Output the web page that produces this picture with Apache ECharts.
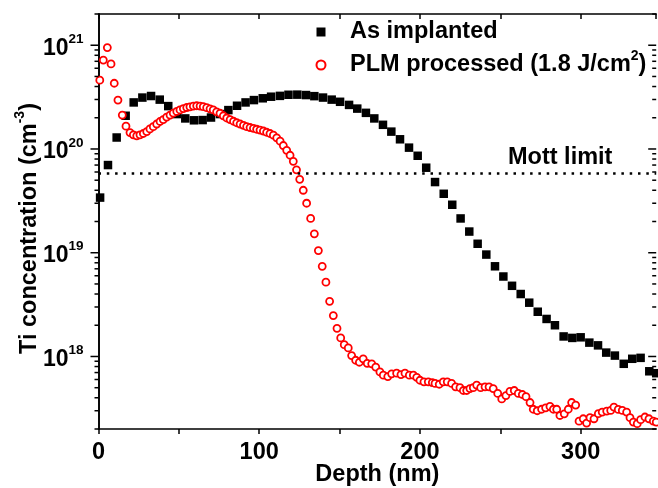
<!DOCTYPE html>
<html>
<head>
<meta charset="utf-8">
<title>Ti concentration profile</title>
<script src="https://cdn.jsdelivr.net/npm/echarts@6/dist/echarts.min.js"></script>
<style>
html, body { margin: 0; padding: 0; background: #fff; }
#chart { width: 658px; height: 488px; }
</style>
</head>
<body>
<div id="chart"></div>
<script>
// depth in nm, concentration in cm^-3
const implantedDepth = [1, 5.9, 11.3, 16.9, 21.9, 27.3, 32.7, 38.1, 43.4, 48.7, 54.0, 59.4, 64.8, 70.0, 75.6, 80.8, 86.2, 91.5, 96.7, 102.2,
  107.4, 112.9, 118.2, 123.7, 129.1, 134.3, 139.7, 145.1, 150.3, 155.9, 161.0, 166.4, 171.6, 177.0, 182.2, 187.6, 193.2, 198.6, 203.9, 209.4,
  214.8, 220.1, 225.3, 230.7, 235.9, 241.3, 246.7, 251.9, 257.3, 262.7, 268.0, 273.3, 278.8, 284.0, 289.4, 294.8, 300.0, 305.4, 310.8, 315.9,
  321.3, 326.8, 332.1, 337.3, 342.7, 347]
const implantedConc = [3.4e19, 7.0e19, 1.29e20, 2.09e20, 2.81e20, 3.13e20, 3.24e20, 2.99e20, 2.59e20, 2.17e20, 1.97e20, 1.89e20, 1.90e20, 2.01e20, 2.17e20, 2.37e20, 2.61e20, 2.81e20, 2.96e20, 3.08e20,
  3.19e20, 3.25e20, 3.33e20, 3.34e20, 3.31e20, 3.23e20, 3.13e20, 2.99e20, 2.85e20, 2.66e20, 2.45e20, 2.23e20, 1.97e20, 1.71e20, 1.47e20, 1.24e20, 1.03e20, 8.6e19, 6.6e19, 4.8e19,
  3.7e19, 2.9e19, 2.14e19, 1.60e19, 1.22e19, 9.6e18, 7.4e18, 5.9e18, 4.8e18, 4.0e18, 3.3e18, 2.7e18, 2.3e18, 2.0e18, 1.56e18, 1.51e18, 1.53e18, 1.36e18, 1.28e18, 1.09e18,
  1.02e18, 8.5e17, 9.5e17, 9.7e17, 7.2e17, 6.9e17]

const plmDepth = [0.8, 3.0, 5.5, 7.8, 9.8, 12.1, 14.8, 17.1, 19.6, 21.7, 23.8, 25.8, 27.9, 30.0, 32.0, 34.1, 36.2, 38.3, 40.3, 42.4,
  44.5, 46.5, 48.7, 50.7, 52.8, 54.9, 56.9, 59.0, 61.1, 63.2, 65.2, 67.3, 69.4, 71.4, 73.5, 75.6, 77.7, 79.8, 81.9, 84.0,
  86.0, 88.1, 90.2, 92.2, 94.3, 96.4, 98.4, 100.5, 102.6, 104.6, 106.7, 108.8, 110.9, 113.0, 115.0, 117.1, 119.2, 121.2, 123.2, 125.2,
  127.4, 129.5, 132.0, 134.3, 136.8, 139.2, 141.5, 143.8, 146.1, 148.4, 150.7, 152.9, 155.4, 157.5, 160.0, 162.3, 164.7, 167.2, 170.0, 172.5,
  175.1, 177.2, 180.0, 182.4, 185.5, 188.2, 190.7, 193.4, 195.9, 198.0, 200.0, 202.5, 205.2, 207.7, 209.4, 212.0, 214.5, 217.0, 219.7, 222.2,
  224.9, 227.0, 229.1, 231.1, 233.2, 235.3, 237.8, 240.5, 243.0, 245.6, 248.4, 250.9, 253.5, 256.0, 258.7, 261.2, 263.7, 266.0, 268.5, 270.5,
  273.0, 275.7, 278.2, 280.9, 283.0, 285.1, 287.1, 289.8, 292.3, 294.4, 296.9, 299.0, 301.6, 303.7, 305.8, 308.3, 311.0, 313.4, 316.2, 318.7,
  320.7, 323.4, 325.9, 328.6, 330.7, 332.8, 335.2, 337.3, 340.0, 342.5, 345.2, 347.0]
const plmConc = [4.6e20, 7.2e20, 9.5e20, 6.6e20, 4.3e20, 2.96e20, 2.12e20, 1.66e20, 1.44e20, 1.37e20, 1.34e20, 1.37e20, 1.41e20, 1.47e20, 1.56e20, 1.64e20, 1.74e20, 1.84e20, 1.92e20, 2.03e20,
  2.12e20, 2.22e20, 2.30e20, 2.38e20, 2.45e20, 2.51e20, 2.55e20, 2.59e20, 2.61e20, 2.59e20, 2.56e20, 2.50e20, 2.44e20, 2.38e20, 2.28e20, 2.21e20, 2.09e20, 1.99e20, 1.92e20, 1.85e20,
  1.79e20, 1.74e20, 1.69e20, 1.64e20, 1.61e20, 1.58e20, 1.55e20, 1.52e20, 1.49e20, 1.45e20, 1.41e20, 1.36e20, 1.28e20, 1.19e20, 1.08e20, 9.7e19, 8.7e19, 7.6e19, 6.3e19, 5.1e19,
  4.0e19, 3.0e19, 2.14e19, 1.52e19, 1.05e19, 7.4e18, 5.2e18, 3.4e18, 2.48e18, 1.87e18, 1.51e18, 1.30e18, 1.21e18, 1.02e18, 9.2e17, 8.8e17, 9.5e17, 8.6e17, 8.5e17, 7.9e17,
  7.1e17, 6.6e17, 6.4e17, 6.8e17, 6.9e17, 6.7e17, 6.9e17, 6.6e17, 6.6e17, 6.3e17, 5.9e17, 5.7e17, 5.7e17, 5.6e17, 5.5e17, 5.4e17, 5.7e17, 5.7e17, 5.5e17, 5.1e17,
  5.0e17, 4.7e17, 4.7e17, 4.9e17, 5.0e17, 5.3e17, 5.0e17, 5.1e17, 5.1e17, 4.9e17, 4.4e17, 3.9e17, 4.2e17, 4.6e17, 4.7e17, 4.4e17, 4.3e17, 4.1e17, 3.6e17, 3.1e17,
  3.0e17, 3.1e17, 3.2e17, 3.3e17, 3.1e17, 3.1e17, 2.7e17, 2.8e17, 3.1e17, 3.6e17, 3.4e17, 2.38e17, 2.51e17, 2.28e17, 2.57e17, 2.51e17, 2.81e17, 2.91e17, 2.98e17, 3.02e17,
  3.25e17, 3.09e17, 3.02e17, 2.91e17, 2.57e17, 2.33e17, 2.25e17, 2.46e17, 2.61e17, 2.51e17, 2.38e17, 2.33e17]

const mottLimit = 5.8e19
const xMin = 0
const xMax = 347
const yMin = 2e17
const yMax = 2e21

const FONT = '"Liberation Sans", Arial, sans-serif'

// log ticks 1..9 x 10^n, drawn by hand (left outward, right inward)
const yTickData = []
for (let e = 17; e <= 21; e++) {
  for (let m = 1; m <= 9; m++) {
    const v = m * Math.pow(10, e)
    if (v >= yMin && v <= yMax) yTickData.push([xMin, v, m === 1 ? 1 : 0])
  }
}

function zip(xs, ys) {
  return xs.map((x, i) => [x, ys[i]])
}

// superscript rich styles: the bottom padding lifts the small token
function richText(size, supSize, lh, lift) {
  return {
    a: { fontFamily: FONT, fontWeight: 'bold', fontSize: size, color: '#000', lineHeight: lh },
    s: { fontFamily: FONT, fontWeight: 'bold', fontSize: supSize, color: '#000', lineHeight: supSize, padding: [0, 0, lift, 0] }
  }
}

const chart = echarts.init(document.getElementById('chart'), null, { renderer: 'canvas' })

const option = {
  backgroundColor: '#fff',
  animation: false,
  textStyle: { fontFamily: FONT },
  grid: { left: 98.5, right: 1.8, top: 14, bottom: 59, outerBoundsMode: 'none', containLabel: false },
  legend: {
    orient: 'vertical',
    left: 310.5,
    top: 15,
    itemWidth: 9,
    itemHeight: 9,
    itemGap: 5,
    selectedMode: false,
    data: [
      { name: 'As implanted', icon: 'rect' },
      { name: 'PLM processed', icon: 'circle' }
    ],
    formatter: name => name === 'PLM processed'
      ? '{a|PLM processed (1.8 J/cm}{s|2}{a|)}'
      : '{a|' + name + '}',
    textStyle: {
      padding: [0, 0, 0, 19.5],
      rich: richText(23.5, 14, 24, 18)
    }
  },
  graphic: [
    {
      type: 'text',
      left: 508,
      top: 146,
      style: { text: 'Mott limit', font: 'bold 23.5px ' + FONT, fill: '#000' }
    }
  ],
  xAxis: [
    {
      type: 'value',
      min: xMin,
      max: xMax,
      interval: 50,
      name: 'Depth (nm)',
      nameLocation: 'middle',
      nameGap: 34,
      nameMoveOverlap: false,
      nameTextStyle: { fontFamily: FONT, fontWeight: 'bold', fontSize: 23.5, color: '#000' },
      axisLine: { show: true, lineStyle: { color: '#000', width: 1.6 } },
      axisTick: { show: true, length: 5, lineStyle: { color: '#000', width: 1.5 } },
      axisLabel: {
        margin: 12,
        fontFamily: FONT,
        fontWeight: 'bold',
        fontSize: 23.5,
        color: '#000',
        showMaxLabel: false,
        formatter: v => (v % 100 === 0 ? String(v) : '')
      },
      splitLine: { show: false }
    },
    {
      type: 'value',
      position: 'top',
      min: xMin,
      max: xMax,
      interval: 50,
      axisLine: { show: true, lineStyle: { color: '#000', width: 1.6 } },
      axisTick: { show: true, inside: true, length: 5, lineStyle: { color: '#000', width: 1.5 } },
      axisLabel: { show: false },
      splitLine: { show: false }
    }
  ],
  yAxis: [
    {
      type: 'log',
      logBase: 10,
      min: yMin,
      max: yMax,
      name: '{a|Ti concentration (cm}{s|-3}{a|)}',
      nameLocation: 'middle',
      nameGap: 57,
      nameMoveOverlap: false,
      nameTextStyle: {
        padding: [0, 14, 0, 0],
        rich: richText(23.5, 14, 24, 18)
      },
      axisLine: { show: true, lineStyle: { color: '#000', width: 1.6 } },
      axisTick: { show: false },
      axisLabel: {
        margin: 15,
        padding: [6, 0, 0, 0],
        formatter: v => {
          const e = Math.log10(v)
          const r = Math.round(e)
          if (Math.abs(e - r) > 1e-6) return ''
          return '{a|10}{s|' + r + '}'
        },
        rich: richText(23, 13.5, 23, 18)
      },
      splitLine: { show: false }
    },
    {
      type: 'log',
      logBase: 10,
      position: 'right',
      min: yMin,
      max: yMax,
      axisLine: { show: true, lineStyle: { color: '#000', width: 1.6 } },
      axisTick: { show: false },
      axisLabel: { show: false },
      splitLine: { show: false }
    }
  ],
  series: [
    {
      // y axis major + minor ticks
      type: 'custom',
      silent: true,
      clip: false,
      z: 5,
      data: yTickData,
      encode: { x: 0, y: 1 },
      renderItem: (params, api) => {
        const v = api.value(1)
        const len = api.value(2) ? 8 : 4
        const l = api.coord([xMin, v])
        const r = api.coord([xMax, v])
        const st = { stroke: '#000', lineWidth: 1.5 }
        return {
          type: 'group',
          children: [
            { type: 'line', shape: { x1: l[0] - len, y1: l[1], x2: l[0], y2: l[1] }, style: st },
            { type: 'line', shape: { x1: r[0] - len, y1: r[1], x2: r[0], y2: r[1] }, style: st }
          ]
        }
      }
    },
    {
      name: 'As implanted',
      type: 'scatter',
      symbol: 'rect',
      symbolSize: 8.5,
      clip: false,
      itemStyle: { color: '#000', opacity: 1 },
      data: zip(implantedDepth, implantedConc),
      markLine: {
        silent: true,
        symbol: ['none', 'none'],
        label: { show: false },
        lineStyle: { color: '#000', type: [2.5, 5.8], width: 2.5, opacity: 1 },
        data: [{ yAxis: mottLimit }]
      }
    },
    {
      name: 'PLM processed',
      type: 'scatter',
      symbol: 'circle',
      symbolSize: 7,
      clip: false,
      itemStyle: { color: '#fff', borderColor: '#ff0000', borderWidth: 1.8, opacity: 1 },
      data: zip(plmDepth, plmConc)
    }
  ]
}

chart.setOption(option)
</script>
</body>
</html>
